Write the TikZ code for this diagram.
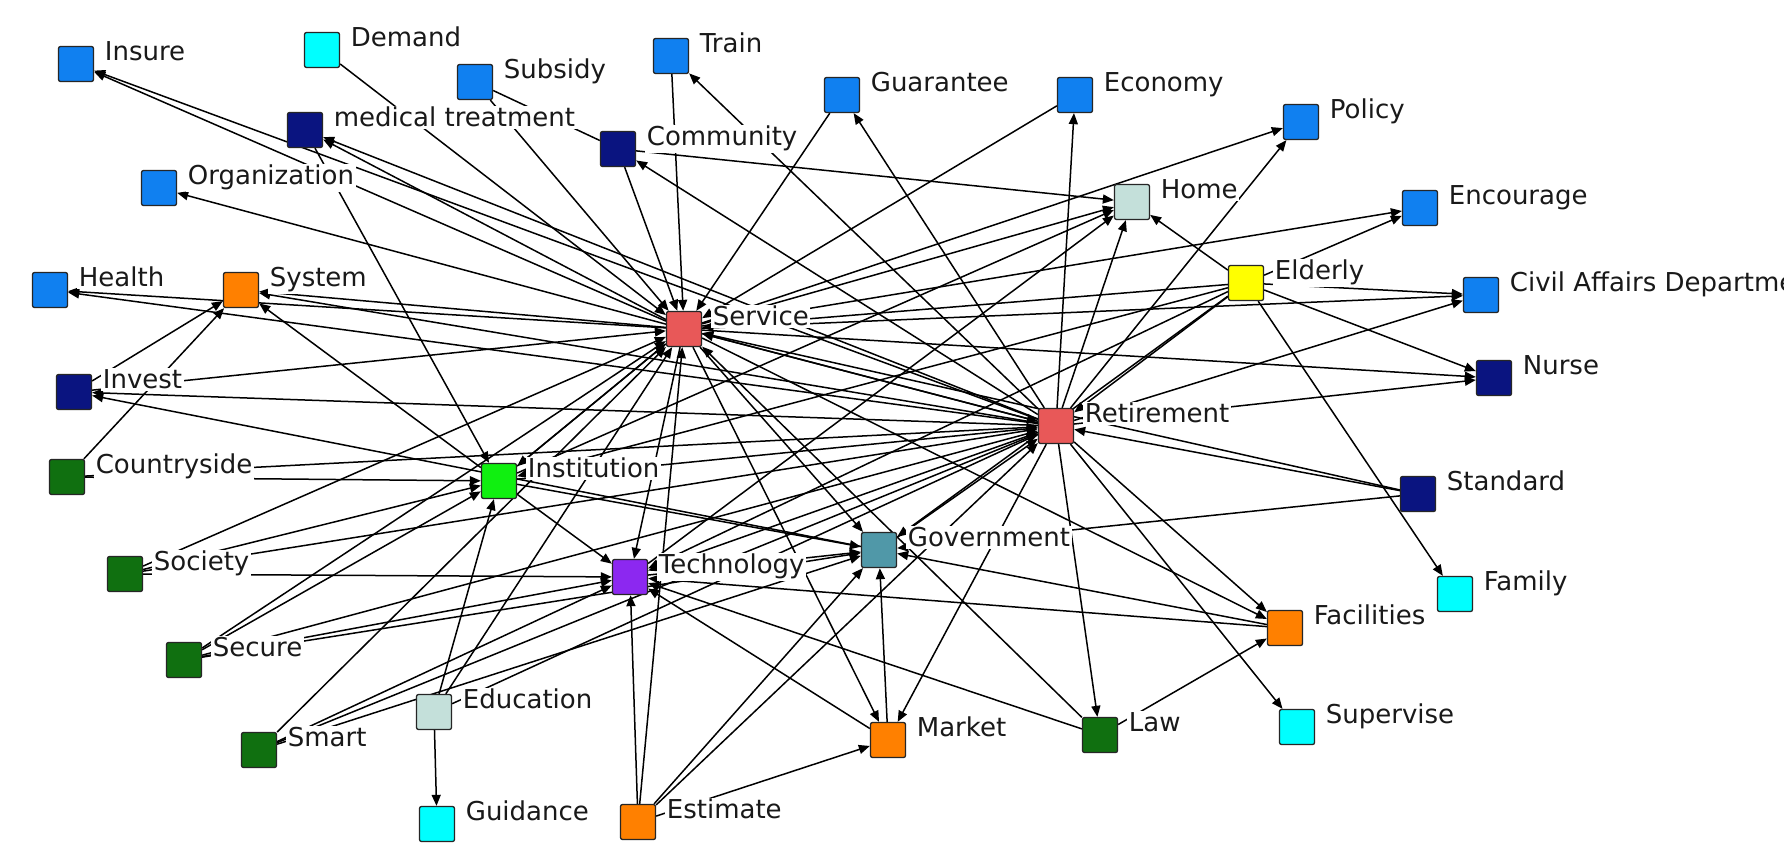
\documentclass[tikz,border=0pt]{standalone}
\usepackage{fontspec}
\setmainfont{DejaVu Sans}
\usetikzlibrary{arrows.meta,calc}
\pgfdeclarelayer{edgelayer}
\pgfsetlayers{edgelayer,main}
\definecolor{cblue}{RGB}{16,128,240}
\definecolor{cnavy}{RGB}{10,20,128}
\definecolor{ccyan}{RGB}{0,255,255}
\definecolor{corange}{RGB}{255,128,0}
\definecolor{cdgreen}{RGB}{16,112,16}
\definecolor{clgreen}{RGB}{16,240,16}
\definecolor{cpurple}{RGB}{140,40,240}
\definecolor{cteal}{RGB}{80,152,168}
\definecolor{cpale}{RGB}{196,224,218}
\definecolor{csalmon}{RGB}{232,88,88}
\definecolor{cyellow}{RGB}{255,255,0}
\tikzset{
 nbox/.style={draw=black!85, line width=1.3pt, rounded corners=2pt, minimum width=35pt, minimum height=35pt, inner sep=0pt},
 lbl/.style={anchor=base west, fill=white, inner sep=1.5pt, text=black!90, font=\fontsize{26}{30}\selectfont},
 lnk/.style={line width=1.5pt, -{Triangle[length=11pt,width=9pt]}},
 plainlnk/.style={line width=1.5pt},
}
\newcommand\mynode[5]{%
 \node[nbox, fill=#4] (#1) at (#2,#3) {};
 \node[lbl] (#1-l) at ($(#1.north east)+(9,15)$) {#5};
}
\begin{document}
\begin{tikzpicture}[x=1pt,y=-1pt]
\clip (0,0) rectangle (1784,855);
\begin{pgfonlayer}{edgelayer}
\fill[white] (0,0) rectangle (1784,855);
\end{pgfonlayer}
\mynode{ins}{76}{64}{cblue}{Insure}
\mynode{dem}{322}{50}{ccyan}{Demand}
\mynode{sub}{475}{82}{cblue}{Subsidy}
\mynode{tra}{671}{56}{cblue}{Train}
\mynode{med}{305}{130}{cnavy}{medical treatment}
\mynode{com}{618}{149}{cnavy}{Community}
\mynode{gua}{842}{95}{cblue}{Guarantee}
\mynode{eco}{1075}{95}{cblue}{Economy}
\mynode{pol}{1301}{122}{cblue}{Policy}
\mynode{org}{159}{188}{cblue}{Organization}
\mynode{hom}{1132}{202}{cpale}{Home}
\mynode{enc}{1420}{208}{cblue}{Encourage}
\mynode{hea}{50}{290}{cblue}{Health}
\mynode{sys}{241}{290}{corange}{System}
\mynode{eld}{1246}{283}{cyellow}{Elderly}
\mynode{ser}{684}{329}{csalmon}{Service}
\mynode{civ}{1481}{295}{cblue}{Civil Affairs Department}
\mynode{inv}{74}{392}{cnavy}{Invest}
\mynode{nur}{1494}{378}{cnavy}{Nurse}
\mynode{ret}{1056}{426}{csalmon}{Retirement}
\mynode{cou}{67}{477}{cdgreen}{Countryside}
\mynode{ist}{499}{481}{clgreen}{Institution}
\mynode{sta}{1418}{494}{cnavy}{Standard}
\mynode{soc}{125}{574}{cdgreen}{Society}
\mynode{tec}{630}{577}{cpurple}{Technology}
\mynode{gov}{879}{550}{cteal}{Government}
\mynode{fam}{1455}{594}{ccyan}{Family}
\mynode{fac}{1285}{628}{corange}{Facilities}
\mynode{sec}{184}{660}{cdgreen}{Secure}
\mynode{edu}{434}{712}{cpale}{Education}
\mynode{mar}{888}{740}{corange}{Market}
\mynode{law}{1100}{735}{cdgreen}{Law}
\mynode{sup}{1297}{727}{ccyan}{Supervise}
\mynode{sma}{259}{750}{cdgreen}{Smart}
\mynode{gui}{437}{824}{ccyan}{Guidance}
\mynode{est}{638}{822}{corange}{Estimate}
\begin{pgfonlayer}{edgelayer}
\draw[plainlnk] (sub) -- (com);
\foreach \a/\b in {ser/ins, ret/ins, ser/med, ret/med, med/ist, ser/org, dem/ser, sub/ser, com/hom,
 ser/hea, ret/hea, ser/sys, ret/sys, ist/sys, inv/sys, cou/sys, inv/ser, ret/inv, gov/inv,
 cou/ist, cou/ret, soc/ist, soc/tec, soc/ser, soc/ret, sec/ist, sec/ser, sec/tec, sec/gov, sec/ret,
 sma/ser, sma/tec, sma/gov, sma/ret, edu/ist, edu/ser, edu/gui, edu/ret,
 est/tec, est/ser, est/gov, est/mar, est/ret, mar/gov, mar/tec, ret/mar, ser/mar,
 ret/law, law/fac, law/tec, law/ser, fac/tec, fac/gov, ret/fac, ser/fac, ret/sup, eld/fam,
 sta/ret, sta/gov, sta/ser, eld/nur, ret/nur, ser/nur, eld/civ, ret/civ, ser/civ, eld/enc, ser/enc,
 ret/pol, ser/pol, ret/eco, eco/ser, ret/gua, gua/ser, tra/ser, ret/tra, com/ser, ret/com,
 eld/hom, ret/hom, ser/hom, ist/hom, tec/hom, eld/ser, eld/ist, eld/tec, eld/ret, eld/gov,
 ist/tec, ist/gov, ist/ser, ist/ret, tec/gov, ser/tec, ret/tec, gov/ret, ser/gov, ser/ret, ret/ser, ser/ist}
 \draw[lnk] (\a) -- (\b);
\end{pgfonlayer}
\end{tikzpicture}
\end{document}
